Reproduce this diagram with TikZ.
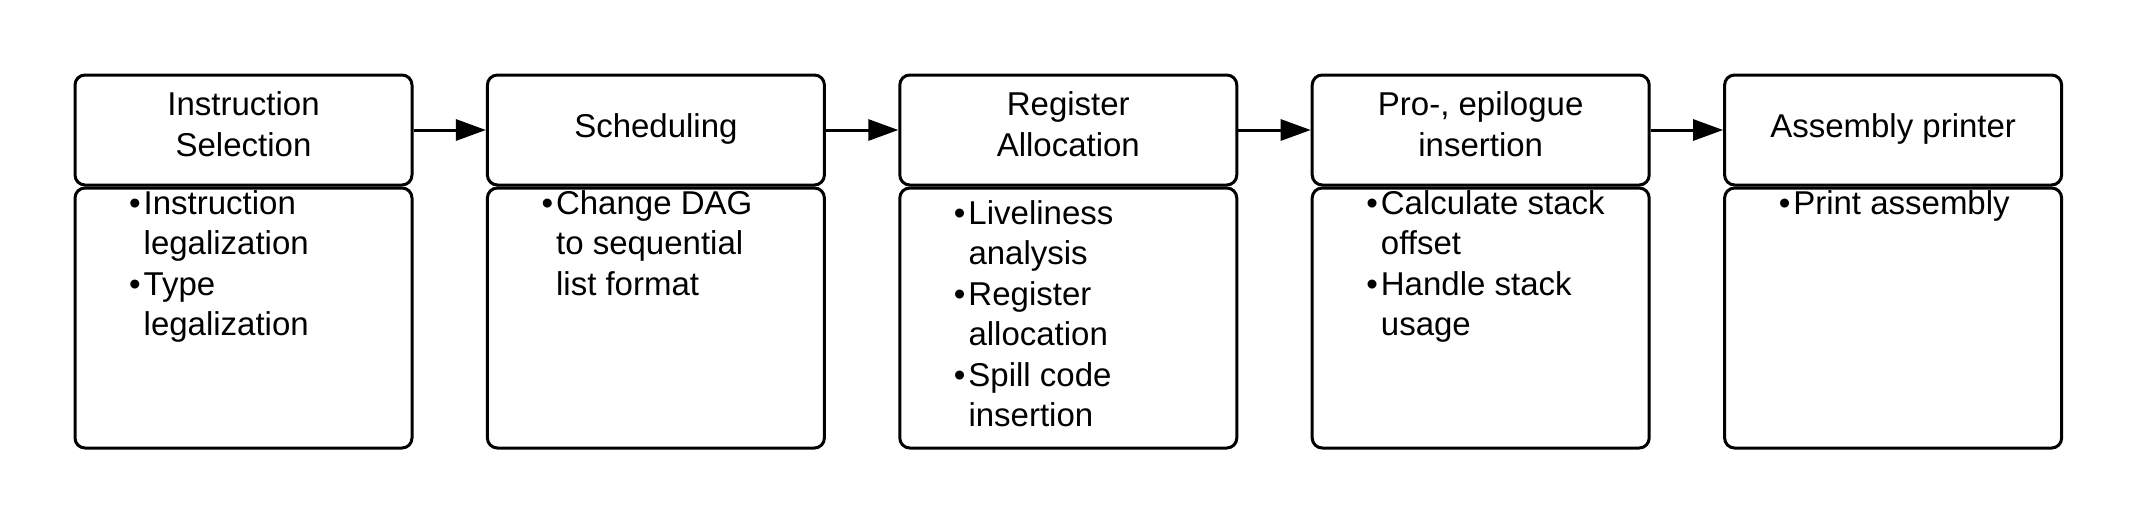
\documentclass[tikz,border=0pt]{standalone}
\usepackage{fontspec}
\setmainfont{Liberation Sans}
\usepackage{tikz}
\usetikzlibrary{arrows.meta,positioning}
\newcommand{\blt}{\llap{\textbullet\hspace{3pt}}}
\tikzset{
  stagehead/.style={draw,line width=3pt,rounded corners=10pt,minimum width=337pt,minimum height=110pt,inner sep=0pt},
  stagebody/.style={draw,line width=3pt,rounded corners=10pt,minimum width=337pt,minimum height=260pt,inner sep=0pt},
  stagetitle/.style={align=center,inner sep=0pt,font=\fontsize{33}{41}\selectfont},
  stagelist/.style={align=left,anchor=north west,inner sep=0pt,font=\fontsize{33}{40.5}\selectfont},
  stageflow/.style={-{Triangle[length=30pt,width=21pt]},line width=3pt}
}
\begin{document}
\begin{tikzpicture}[x=1pt,y=1pt]
\useasboundingbox (0,0) rectangle (2138,-525);
\node[stagehead] (h1) at (243.5,-130) {};
\node[stagehead,right=72.4pt of h1] (h2) {};
\node[stagehead,right=72.4pt of h2] (h3) {};
\node[stagehead,right=72.4pt of h3] (h4) {};
\node[stagehead,right=72.4pt of h4] (h5) {};
\foreach \n in {1,...,5}{\node[stagebody,below=0pt of h\n] (b\n) {};}
\foreach \a/\b in {h1/h2,h2/h3,h3/h4,h4/h5}{\draw[stageflow] (\a) -- (\b);}
% stage titles
\node[stagetitle] (t1) at ([yshift=5.5pt]h1.center) {Instruction\\Selection};
\node[stagetitle] (t2) at ([yshift=1pt]h2.center) {Scheduling};
\node[stagetitle] (t3) at ([yshift=5.5pt]h3.center) {Register\\Allocation};
\node[stagetitle] (t4) at ([yshift=5.5pt]h4.center) {Pro-, epilogue\\insertion};
\node[stagetitle] (t5) at ([yshift=1pt]h5.center) {Assembly printer};
% stage tasks
\node[stagelist] (l1) at ([xshift=70pt,yshift=-3.5pt]b1.north west) {\blt Instruction\\legalization\\\blt Type\\legalization};
\node[stagelist] (l2) at ([xshift=70pt,yshift=-3.5pt]b2.north west) {\blt Change DAG\\to sequential\\list format};
\node[stagelist] (l3) at ([xshift=70pt,yshift=-13.5pt]b3.north west) {\blt Liveliness\\analysis\\\blt Register\\allocation\\\blt Spill code\\insertion};
\node[stagelist] (l4) at ([xshift=70pt,yshift=-3.5pt]b4.north west) {\blt Calculate stack\\offset\\\blt Handle stack\\usage};
\node[stagelist] (l5) at ([xshift=70pt,yshift=-3.5pt]b5.north west) {\blt Print assembly};
\end{tikzpicture}
\end{document}
